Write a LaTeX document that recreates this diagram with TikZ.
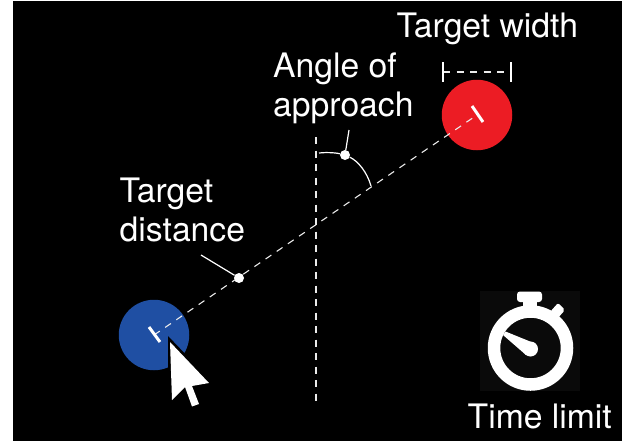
\documentclass[tikz,border=0pt]{standalone}
\usepackage{fontspec}
\setmainfont{TeX Gyre Heros}
\definecolor{tred}{HTML}{EC1C24}
\definecolor{tblue}{HTML}{1F4FA3}
\tikzset{
  lab/.style={text=white,inner sep=0pt,anchor=base west,font=\fontsize{33.7}{39}\selectfont,align=left},
  dashline/.style={draw=white!92!black,line width=1.1pt,dash pattern=on 7pt off 6.5pt},
  thin white/.style={draw=white,line width=1.2pt},
  tick/.style={draw=white,line width=3pt},
  target/.style={circle,minimum size=70.5pt,inner sep=0pt},
  dot/.style={circle,fill=white,minimum size=10pt,inner sep=0pt}
}
\begin{document}
\begin{tikzpicture}[x=1pt,y=-1pt]
\useasboundingbox (0,0) rectangle (628,442);
\fill[white] (0,0) rectangle (628,442);
\fill[black] (13,1) rectangle (622,441);
% targets
\node[target,fill=tblue] (blue) at (154,335) {};
\node[target,fill=tred] (red) at (477,115) {};
% axes
\draw[dashline] (blue.center) -- (red.center);
\coordinate (vtop) at (316,137);
\coordinate (vbot) at (316,403);
\draw[dashline] (vtop) -- (vbot);
% ticks
\draw[tick] (149,327) -- (160,342);
\draw[tick] (472,106) -- (483,122);
% width marker
\coordinate (wl) at (443,72);
\coordinate (wr) at (511,72);
\draw[dashline] (wl) -- (wr);
\draw[tick,line width=2.6pt] (443,62) -- (443,82);
\draw[tick,line width=2.6pt] (511,62) -- (511,82);
% angle
\node[dot] (adot) at (345,155) {};
\coordinate (astart) at (319,153);
\coordinate (aend) at (371,186);
\coordinate (aleader) at (349,130);
\draw[thin white] (astart) .. controls (328,152) and (337,153) .. (adot);
\draw[thin white] (adot) .. controls (358,161) and (367,172) .. (aend);
\draw[thin white] (aleader) -- (adot);
% distance
\node[dot] (ddot) at (239,278) {};
\coordinate (dleader) at (201,255);
\draw[thin white] (dleader) -- (ddot);
% cursor
\fill[black] (168,336) -- (216,386) -- (198,389) -- (203,406) -- (192,411) -- (183,393) -- (168,408) -- cycle;
\fill[white] (170,342) -- (209,383) -- (192,386) -- (199,404) -- (192,406.5) -- (185,387) -- (172,400) -- cycle;
% stopwatch
\fill[black!96!white] (480,291) rectangle (580,391);
\draw[white,line width=12.5pt] (530.5,348) circle (36.5);
\fill[white,rounded corners=3pt] (517,291.5) rectangle (542,302);
\fill[white] (523,300) rectangle (537,312);
\fill[white,rounded corners=2pt] (550,312) -- (558,303) -- (565,310) -- (557,319) -- cycle;
\fill[white] (505.5,331.5) -- (503,335) -- (526,355) -- (535,343.5) -- cycle;
\fill[white] (530.5,349) circle (7.5);
% labels
\node[lab] (lw) at (396.5,37) {Target width};
\node[lab] (la) at (273,116) {Angle of\\approach};
\node[lab] (ld) at (119.5,241) {Target\\distance};
\node[lab] (lt) at (467.5,428) {Time limit};
\end{tikzpicture}
\end{document}
